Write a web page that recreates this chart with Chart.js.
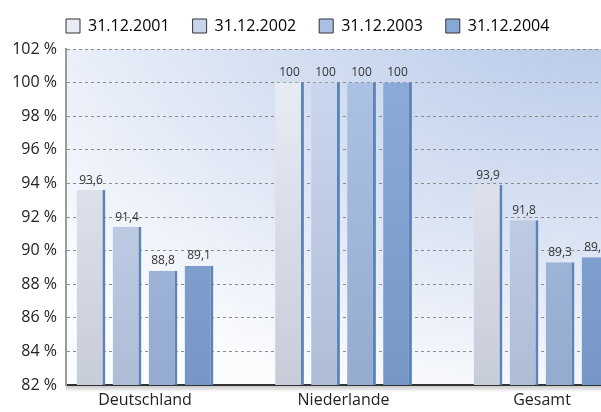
<!DOCTYPE html>
<html>
<head>
<meta charset="utf-8">
<script src="https://cdn.jsdelivr.net/npm/chart.js@4"></script>
<style>
	html, body { margin: 0; padding: 0; background: #fff; overflow: hidden; }
</style>
</head>
<body>
<canvas id="target" width="601" height="412"></canvas>
<script>
const categories = ['Deutschland', 'Niederlande', 'Gesamt'];
const seriesNames = ['31.12.2001', '31.12.2002', '31.12.2003', '31.12.2004'];
const values2001 = [93.6, 100, 93.9];
const values2002 = [91.4, 100, 91.8];
const values2003 = [88.8, 100, 89.3];
const values2004 = [89.1, 100, 89.6];
const yMin = 82;
const yMax = 102;
const yStep = 2;

const seriesValues = [values2001, values2002, values2003, values2004];
const legendColors = ['#e8ebf4', '#c7d4ec', '#a9bfe4', '#86a8d6'];
const barTop = ['#eceff7', '#cdd9f0', '#aec4e7', '#8cadda'];
const barBottom = ['#c7ccd9', '#aebcd6', '#94aace', '#7697c5'];
const fontFamily = '"Open Sans", "Noto Sans", sans-serif';

function barGradient(i) {
	return (context) => {
		const area = context.chart.chartArea;
		if (!area) return barTop[i];
		const g = context.chart.ctx.createLinearGradient(0, area.bottom, 0, area.top);
		g.addColorStop(0, barBottom[i]);
		g.addColorStop(1, barTop[i]);
		return g;
	};
}

// plot background: light at the bottom left, blue at the top right
const plotBackground = {
	id: 'plotBackground',
	afterLayout(chart) {
		// the legend starts a bit right of the canvas edge
		chart.legend.left += 43;
	},
	beforeDraw(chart) {
		const {ctx, chartArea: a} = chart;
		const rx = 700, ry = 420, cy = a.top - 50;
		ctx.save();
		ctx.beginPath();
		ctx.rect(a.left, a.top, a.right - a.left, a.bottom - a.top);
		ctx.clip();
		ctx.translate(a.right, cy);
		ctx.scale(rx / ry, 1);
		const g = ctx.createRadialGradient(0, 0, 0, 0, 0, ry);
		g.addColorStop(0, '#b3c7e7');
		g.addColorStop(0.5, '#d6e0f2');
		g.addColorStop(1, '#fbfcfe');
		ctx.fillStyle = g;
		ctx.fillRect(-(a.right - a.left) / (rx / ry) - 5, 0, (a.right - a.left) / (rx / ry) + 10, a.bottom - cy + 5);
		ctx.restore();
	},
	afterDraw(chart) {
		const {ctx, chartArea: a} = chart;
		ctx.save();
		const g = ctx.createLinearGradient(0, a.bottom + 1, 0, a.bottom + 7);
		g.addColorStop(0, 'rgba(0,0,0,0.22)');
		g.addColorStop(1, 'rgba(0,0,0,0)');
		ctx.fillStyle = g;
		ctx.fillRect(a.left, a.bottom + 1, a.right - a.left, 6);
		ctx.restore();
	}
};

const valueLabels = {
	id: 'valueLabels',
	afterDatasetsDraw(chart) {
		const ctx = chart.ctx;
		ctx.save();
		ctx.font = '12px ' + fontFamily;
		ctx.fillStyle = '#333';
		ctx.textAlign = 'center';
		ctx.textBaseline = 'bottom';
		chart.data.datasets.forEach((ds, d) => {
			chart.getDatasetMeta(d).data.forEach((bar, i) => {
				ctx.fillText(String(ds.data[i].y).replace('.', ','), bar.x, bar.y - 4);
			});
		});
		ctx.restore();
	}
};

const chart = new Chart(document.getElementById('target'), {
	type: 'bar',
	data: {
		datasets: seriesNames.map((name, i) => ({
			label: name,
			data: seriesValues[i].map((v, c) => ({x: c, y: v})),
			backgroundColor: barGradient(i),
			borderColor: '#5d84b6',
			borderWidth: {top: 0, right: 3, bottom: 0, left: 0},
			borderSkipped: false,
			barPercentage: 0.8,
			categoryPercentage: 0.7254
		}))
	},
	options: {
		responsive: false,
		animation: false,
		devicePixelRatio: 1,
		layout: {padding: {top: -5, left: 0, right: 0, bottom: 0}},
		plugins: {
			legend: {
				align: 'start',
				labels: {
					boxWidth: 14,
					boxHeight: 14,
					padding: 23,
					color: '#222',
					font: {family: fontFamily, size: 16},
					generateLabels: () => seriesNames.map((n, i) => ({
						text: n, fillStyle: legendColors[i], strokeStyle: '#333', lineWidth: 1, datasetIndex: i, hidden: false
					}))
				}
			},
			subtitle: {
				display: true,
				text: '',
				weight: 500,
				padding: 0,
				font: {size: 5, lineHeight: 1}
			},
			tooltip: {enabled: false}
		},
		scales: {
			x: {
				type: 'linear',
				offset: false,
				min: -0.398,
				max: 2.297,
				afterBuildTicks: (s) => { s.ticks = categories.map((c, i) => ({value: i})); },
				afterFit: (s) => { s.height = 27; },
				ticks: {
					callback: (v) => categories[v],
					autoSkip: false,
					maxRotation: 0,
					padding: 6,
					color: '#222',
					font: {family: fontFamily, size: 16}
				},
				grid: {display: false, drawTicks: false, offset: false},
				border: {display: true, color: '#333', width: 2}
			},
			y: {
				min: yMin,
				max: yMax,
				afterFit: (s) => { s.width = 66; },
				ticks: {
					stepSize: yStep,
					callback: (v) => v + ' %',
					padding: 9,
					color: '#222',
					font: {family: fontFamily, size: 16}
				},
				grid: {color: '#8c8c8c', lineWidth: 1, drawTicks: false},
				border: {display: true, color: '#9a9a9a', width: 2, dash: [3, 3]}
			}
		}
	},
	plugins: [plotBackground, valueLabels]
});
</script>
</body>
</html>
